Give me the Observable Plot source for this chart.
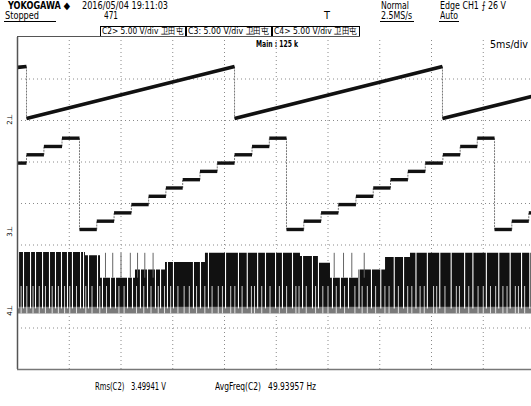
<!DOCTYPE html>
<html><head><meta charset="utf-8">
<script src="https://cdn.jsdelivr.net/npm/d3@7"></script>
<script src="https://cdn.jsdelivr.net/npm/@observablehq/plot@0.6"></script>
<style>
html,body{margin:0;padding:0;background:#fff;}
#wrap{position:relative;width:531px;height:406px;overflow:hidden;font-family:"DejaVu Sans",sans-serif;font-size:10px;color:#000;}
#wrap svg{position:absolute;left:0;top:0;}
.t{position:absolute;white-space:pre;line-height:9px;height:9px;transform-origin:0 0;}
.ul{position:absolute;height:0;border-top:1px solid #000;}
.box{position:absolute;top:26px;height:10px;border:1px solid #000;border-bottom:none;box-sizing:border-box;}
.mk{position:absolute;left:5px;font-size:7px;transform:rotate(-90deg);line-height:1;}
</style></head><body><div id="wrap"></div>
<script>
// ---- settings ----
const timebase = "5ms/div";
const gridXms = [5, 10, 15, 20, 25, 30, 35, 40, 45];   // vertical dotted grid (ms)
const gridYdiv = [-3, -2, -1, 0, 1, 2, 3];             // horizontal dotted grid (div)
const voltsPerDiv = 5;
const ch1Offset = 2.0, ch2Offset = -0.7, ch3Offset = -2.6; // ground positions (div)

// ---- channel A: sawtooth (ms, V) ----
const sawT = [0, 0.87, 0.87, 20.97, 20.97, 41.06, 41.06, 50];
const sawV = [6.4, 6.5, 0.24, 6.5, 0.24, 6.5, 0.24, 3.0];

// ---- channel B: staircase (step start ms, level V) ----
const stairT = [0, 0.87, 2.55, 4.3, 5.99, 7.66, 9.33, 11.0, 12.67, 14.34, 15.96, 17.63, 19.3, 20.97, 22.66, 24.33,
                25.99, 27.66, 29.33, 31.0, 32.7, 34.37, 36.04, 37.72, 39.4, 41.1, 42.77, 44.42, 46.09, 47.76, 49.4];
const stairV = [8.37, 9.37, 10.37, 11.37, 0.37, 1.37, 2.37, 3.37, 4.37, 5.37, 6.37, 7.37, 8.37, 9.37, 10.37, 11.37,
                0.37, 1.37, 2.37, 3.37, 4.37, 5.37, 6.37, 7.37, 8.37, 9.37, 10.37, 11.37, 0.37, 1.37, 2.37];
const stairEnd = 50;

// ---- channel C: PWM band envelope (ms, V) ----
const bandT   = [0, 6.57, 8.02, 11.4, 14.3, 18.16, 27.34, 29.08, 30.24, 32.95, 35.56, 37.97, 50];
const bandTop = [7.1, 6.7, 4.0, 5.0, 5.9, 7.0, 6.6, 5.8, 4.0, 5.0, 6.5, 7.0, 7.0];
const bandLow = 0.5, fringeLow = -0.3;
const gapT = [0.1, 0.58, 1.26, 1.74, 2.42, 3.09, 3.67, 4.25, 4.83, 5.31, 6.09, 6.38, 6.86, 7.73, 8.21, 8.99, 9.47,
              10.63, 11.11, 11.88, 12.56, 13.33, 13.82, 14.49, 15.07, 17.0, 17.68, 18.45, 20.1, 21.35, 22.2, 23.2,
              23.96, 24.93, 25.6, 26.57, 27.54, 28.5, 29.08, 30.43, 31.2, 31.98, 33.0, 34.2, 35.1, 36.4, 37.3, 38.5,
              39.6, 40.8, 41.9, 43.2, 44.0, 45.3, 46.5, 47.6, 48.7, 49.5];
const gapLowT = [0.35, 0.9, 1.5, 2.1, 2.7, 3.35, 3.95, 4.55, 5.05, 5.7, 6.6, 7.2, 7.95, 8.6, 9.8, 10.3, 11.5, 12.2,
                 12.9, 13.6, 14.2, 14.8, 15.5, 16.1, 16.6, 17.3, 18.1, 18.8, 19.4, 19.8, 20.6, 21.0, 21.7, 22.6, 22.9,
                 23.6, 24.4, 25.3, 26.0, 26.9, 27.2, 27.9, 28.8, 29.5, 30.0, 30.8, 31.6, 32.6, 33.3, 33.8, 34.6, 35.5,
                 35.9, 36.8, 37.7, 38.1, 38.9, 39.3, 40.2, 40.5, 41.3, 42.4, 42.7, 43.6, 44.5, 45.0, 45.7, 46.2, 46.9,
                 47.3, 48.1, 48.4, 49.0, 49.8];
const spikeT = [8.5, 9.2, 10.0, 10.9, 11.6, 12.3, 13.1, 30.6, 31.5, 32.3, 33.5];

// ---- derived tables ----
const dv = (off, v) => off + v / voltsPerDiv;
const sawSegs = sawT.slice(1).map((t, i) => ({x1: sawT[i], x2: t, y1: dv(ch1Offset, sawV[i]), y2: dv(ch1Offset, sawV[i + 1])}));
const sawRamps = sawSegs.filter(s => s.x1 !== s.x2);
const sawFalls = sawSegs.filter(s => s.x1 === s.x2);
const stairH = stairT.map((t, i) => ({x1: t, x2: i + 1 < stairT.length ? stairT[i + 1] : stairEnd, y1: dv(ch2Offset, stairV[i]), y2: dv(ch2Offset, stairV[i])}));
const stairVert = stairT.slice(1).map((t, i) => ({x1: t, x2: t, y1: dv(ch2Offset, stairV[i]), y2: dv(ch2Offset, stairV[i + 1])}));
const band = bandT.map((t, i) => ({t, top: bandTop[i]}));

const chart = Plot.plot({
  width: 531, height: 406, margin: 0,
  x: {domain: [0, 50], range: [17, 534.5], axis: null},
  y: {domain: [-4, 4], range: [369, 37], axis: null},
  style: {background: "transparent", overflow: "visible"},
  marks: [
    Plot.ruleX(gridXms, {y1: -4, y2: 4, stroke: "#8a8a8a", strokeDasharray: "1,3"}),
    Plot.ruleY(gridYdiv, {x1: 0, x2: 50, stroke: "#8a8a8a", strokeDasharray: "1,3"}),
    // PWM band
    Plot.areaY(band, {x: "t", y1: dv(ch3Offset, fringeLow), y2: dv(ch3Offset, bandLow + 0.4), curve: "step-after", fill: "#7a7a7a"}),
    Plot.areaY(band, {x: "t", y1: dv(ch3Offset, bandLow), y2: d => dv(ch3Offset, d.top), curve: "step-after", fill: "#111"}),
    Plot.ruleX(spikeT, {x: d => d, y1: dv(ch3Offset, 4), y2: dv(ch3Offset, 7.0), stroke: "#666", strokeWidth: 1}),
    Plot.ruleX(gapT, {x: d => d, y1: dv(ch3Offset, 0.3), y2: dv(ch3Offset, 7.8), stroke: "#fff", strokeWidth: 1.1}),
    Plot.ruleX(gapLowT, {x: d => d, y1: dv(ch3Offset, fringeLow), y2: dv(ch3Offset, 3.0), stroke: "#fff", strokeWidth: 0.8}),
    // sawtooth
    Plot.link(sawFalls, {x1: "x1", x2: "x2", y1: "y1", y2: "y2", stroke: "#777", strokeWidth: 1, strokeDasharray: "2,1"}),
    Plot.link(sawRamps, {x1: "x1", x2: "x2", y1: "y1", y2: "y2", stroke: "#111", strokeWidth: 3.6}),
    // staircase
    Plot.link(stairVert, {x1: "x1", x2: "x2", y1: "y1", y2: "y2", stroke: "#777", strokeWidth: 1, strokeDasharray: "2,1"}),
    Plot.link(stairH, {x1: "x1", x2: "x2", y1: "y1", y2: "y2", stroke: "#111", strokeWidth: 3.4}),
    // frame
    Plot.ruleX([0], {y1: -4, y2: 4, stroke: "#555", strokeWidth: 1.5}),
    Plot.ruleY([-4], {x1: 0, x2: 50, stroke: "#777", strokeWidth: 1.5})
  ]
});
const wrap = document.getElementById("wrap");
wrap.appendChild(chart);

function txt(s, left, top, width, style) {
  const d = document.createElement("div");
  d.className = "t";
  d.textContent = s;
  d.style.left = left + "px"; d.style.top = top + "px";
  if (style) Object.assign(d.style, style);
  wrap.appendChild(d);
  const w = d.getBoundingClientRect().width;
  if (width && w > 0) d.style.transform = `scaleX(${width / w})`;
  return d;
}
function uline(left, top, width) {
  const u = document.createElement("div");
  u.className = "ul";
  u.style.left = left + "px"; u.style.top = top + "px"; u.style.width = width + "px";
  wrap.appendChild(u);
}
txt("YOKOGAWA \u25C6", 8, 1, 62, {fontWeight: "bold"});
txt("2016/05/04 19:11:03", 82, 1, 86);
txt("Stopped", 5, 11, 34);
uline(4, 21, 52);
txt("471", 104, 11, 14);
txt("T", 324, 11, 6);
txt("Normal", 381, 1, 28);
txt("2.5MS/s", 381, 11, 31);
uline(380, 21, 34);
txt("Edge CH1 \u2A0D 26 V", 440, 1, 66);
txt("Auto", 440, 11, 18);
uline(439, 21, 20);
txt("Main : 125 k", 256, 40, 42, {fontWeight: "bold", fontSize: "9px"});
txt(timebase, 490, 40, 38);
txt("Rms(C2)   3.49941 V", 95, 382, 71);
txt("AvgFreq(C2)   49.93957 Hz", 215, 382, 101);

const boxes = [["C2>", 100, 86], ["C3:", 186, 86], ["C4>", 272, 88]];
for (const [lab, l, w] of boxes) {
  const b = document.createElement("div");
  b.className = "box";
  b.style.left = l + "px"; b.style.width = w + "px";
  wrap.appendChild(b);
  txt(lab + " 5.00 V/div \u536B\u7530\u5C6F", l + 2, 27, w - 5, {fontSize: "9px"});
}
const topLine = document.createElement("div");
Object.assign(topLine.style, {position: "absolute", left: "17px", top: "36px", width: "343px", height: "0", borderTop: "1px solid #555"});
wrap.appendChild(topLine);

for (const [lab, top] of [["2", 116], ["3", 228], ["4", 307]]) {
  const m = document.createElement("div");
  m.className = "mk"; m.textContent = lab + "\u22A5"; m.style.top = top + "px";
  wrap.appendChild(m);
}
</script>
</body></html>
